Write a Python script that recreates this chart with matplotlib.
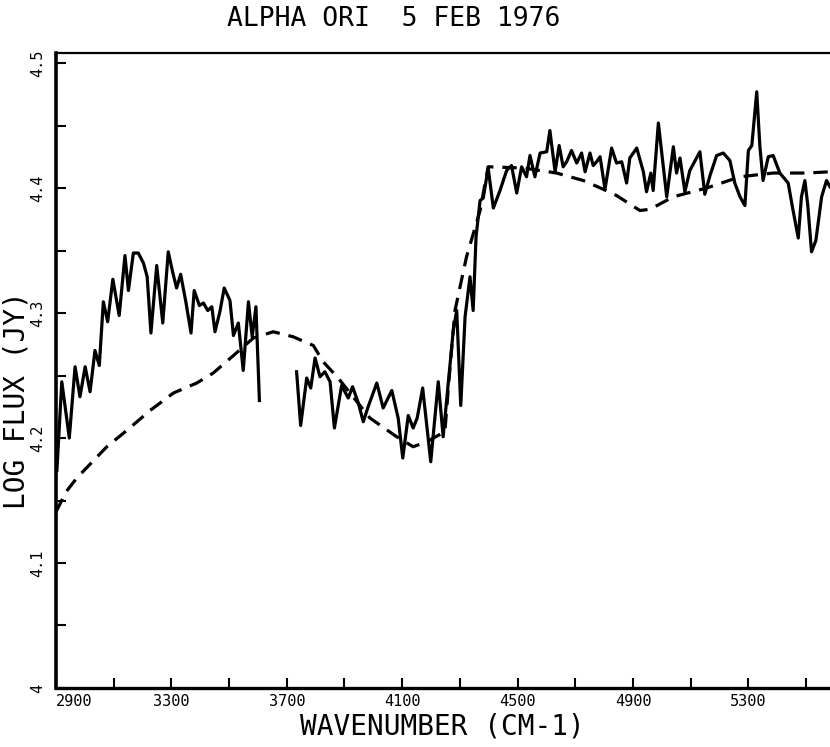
import matplotlib
matplotlib.use('Agg')
import matplotlib.pyplot as plt

# observed spectrum, part below the gap (wavenumber cm-1, log flux)
wn_a = [2903, 2920, 2946, 2966, 2983, 3001, 3018, 3035, 3050, 3064, 3079, 3097,
        3119, 3139, 3151, 3168, 3185, 3203, 3216, 3229, 3249, 3270, 3289, 3304,
        3318, 3332, 3350, 3368, 3379, 3397, 3411, 3426, 3440, 3451, 3468, 3483,
        3503, 3515, 3532, 3549, 3567, 3580, 3593, 3605]
flux_a = [4.174, 4.245, 4.200, 4.257, 4.233, 4.257, 4.237, 4.270, 4.258, 4.309,
          4.293, 4.327, 4.298, 4.346, 4.318, 4.348, 4.348, 4.340, 4.329, 4.284,
          4.338, 4.292, 4.349, 4.333, 4.320, 4.331, 4.309, 4.284, 4.318, 4.306,
          4.308, 4.302, 4.305, 4.285, 4.301, 4.320, 4.310, 4.282, 4.292, 4.254,
          4.309, 4.281, 4.305, 4.230]

# observed spectrum, part above the gap
wn_b = [3734, 3748, 3769, 3783, 3798, 3815, 3832, 3850, 3865, 3890, 3913, 3928,
        3948, 3965, 3982, 4012, 4034, 4064, 4086, 4102, 4121, 4138, 4152, 4171,
        4199, 4225, 4242, 4254, 4277, 4289, 4303, 4318, 4335, 4346, 4356, 4370,
        4381, 4398, 4416, 4439, 4462, 4479, 4497, 4514, 4531, 4543, 4560, 4578,
        4601, 4612, 4630, 4644, 4658, 4670, 4687, 4705, 4722, 4734, 4751, 4762,
        4774, 4786, 4803, 4826, 4843, 4861, 4878, 4889, 4913, 4936, 4947, 4962,
        4970, 4988, 5017, 5040, 5051, 5063, 5080, 5097, 5132, 5149, 5167, 5190,
        5213, 5236, 5253, 5271, 5288, 5300, 5312, 5329, 5340, 5351, 5369, 5386,
        5409, 5438, 5455, 5473, 5484, 5496, 5506, 5519, 5534, 5554, 5571, 5583]
flux_b = [4.253, 4.210, 4.248, 4.240, 4.264, 4.249, 4.253, 4.245, 4.208, 4.242,
          4.232, 4.241, 4.228, 4.213, 4.225, 4.244, 4.224, 4.238, 4.216, 4.184,
          4.218, 4.208, 4.216, 4.240, 4.181, 4.245, 4.201, 4.230, 4.286, 4.302,
          4.226, 4.297, 4.329, 4.302, 4.361, 4.390, 4.392, 4.416, 4.384, 4.398,
          4.414, 4.418, 4.396, 4.417, 4.409, 4.426, 4.409, 4.428, 4.429, 4.446,
          4.413, 4.434, 4.417, 4.421, 4.430, 4.420, 4.428, 4.413, 4.428, 4.418,
          4.421, 4.425, 4.399, 4.432, 4.420, 4.421, 4.404, 4.424, 4.432, 4.413,
          4.397, 4.412, 4.398, 4.452, 4.393, 4.433, 4.412, 4.424, 4.397, 4.414,
          4.429, 4.395, 4.410, 4.426, 4.428, 4.422, 4.404, 4.393, 4.386, 4.430,
          4.434, 4.477, 4.433, 4.406, 4.425, 4.426, 4.412, 4.404, 4.382, 4.360,
          4.393, 4.406, 4.386, 4.349, 4.358, 4.393, 4.406, 4.401]

# model (dashed)
wn_model = [2900, 2935, 2972, 3076, 3145, 3226, 3307, 3388, 3445, 3515, 3584,
            3653, 3722, 3792, 3826, 3878, 3988, 4081, 4138, 4185, 4248, 4262,
            4283, 4323, 4370, 4398, 4520, 4635, 4728, 4797, 4843, 4924, 4959,
            5040, 5155, 5271, 5386, 5502, 5583]
flux_model = [4.141, 4.157, 4.168, 4.193, 4.206, 4.222, 4.236, 4.244, 4.252,
              4.266, 4.280, 4.285, 4.281, 4.274, 4.261, 4.248, 4.216, 4.201,
              4.193, 4.197, 4.205, 4.246, 4.302, 4.345, 4.382, 4.417, 4.416,
              4.412, 4.406, 4.399, 4.394, 4.382, 4.383, 4.393, 4.400, 4.409,
              4.412, 4.412, 4.413]

x_ticks = list(range(2900, 5600, 200))
y_ticks = [4.0 + 0.05 * i for i in range(11)]
y_labels = {0: '4', 2: '4.1', 4: '4.2', 6: '4.3', 8: '4.4', 10: '4.5'}

plt.rcParams['font.family'] = ['DejaVu Sans Mono']

fig = plt.figure(figsize=(8.3, 7.47), dpi=100)
ax = fig.add_axes([0.0675, 0.079, 0.9325, 0.85])

ax.plot(wn_a, flux_a, color='black', lw=2.3, solid_joinstyle='round')
ax.plot(wn_b, flux_b, color='black', lw=2.3, solid_joinstyle='round')
ax.plot(wn_model, flux_model, color='black', lw=2.3, dashes=(4.5, 2.8))

ax.set_xlim(2900, 5583)
ax.set_ylim(4.0, 4.508)

ax.spines['right'].set_visible(False)
ax.spines['left'].set_linewidth(2.6)
ax.spines['bottom'].set_linewidth(2.4)
ax.spines['top'].set_linewidth(1.6)

ax.set_xticks(x_ticks)
ax.set_xticklabels([str(v) if (v - 2900) % 400 == 0 else '' for v in x_ticks],
                   fontsize=11)
ax.get_xticklabels()[0].set_horizontalalignment('left')
ax.set_yticks(y_ticks)
ax.set_yticklabels([y_labels.get(i, '') for i in range(len(y_ticks))],
                   fontsize=11, rotation=90, va='center')
ax.tick_params(axis='both', direction='in', length=7, width=1.5, pad=4)
ax.tick_params(axis='y', pad=8)

fig.text(0.474, 0.975, 'ALPHA ORI  5 FEB 1976', ha='center', va='center',
         fontsize=19)
fig.text(0.533, 0.027, 'WAVENUMBER (CM-1)', ha='center', va='center',
         fontsize=20)
fig.text(0.02, 0.465, 'LOG FLUX (JY)', ha='center', va='center',
         rotation=90, fontsize=20)

fig.savefig('out.png', dpi=100)
